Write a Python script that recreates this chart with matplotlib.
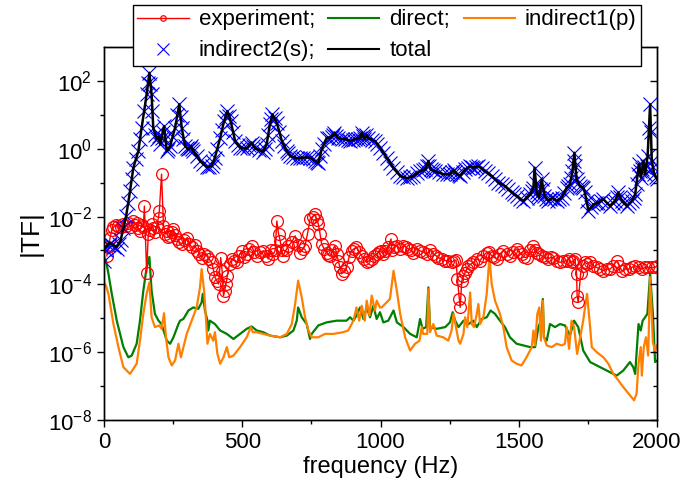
import numpy as np
import matplotlib
matplotlib.use("Agg")
import matplotlib.pyplot as plt
from matplotlib.lines import Line2D
from matplotlib.ticker import FixedLocator, LogFormatterSciNotation, NullFormatter, MultipleLocator

plt.rcParams['font.family'] = ['Liberation Sans', 'DejaVu Sans']

# ---------------- data (frequency in Hz, log10 |TF|) ----------------
experiment_pts = [
    (10, -3.16), (16, -2.9), (22, -2.62), (28, -2.4), (34, -2.32), (43, -2.25), (52, -2.27), (61, -2.3),
    (70, -2.22), (79, -2.28), (88, -2.18), (97, -2.3), (106, -2.13), (112, -2.25), (118, -2.18), (124, -2.35),
    (130, -2.42), (136, -2.25), (142, -2.32), (146, -1.69), (154, -3.65), (160, -2.52), (166, -2.4), (172, -2.22),
    (178, -2.35), (184, -2.47), (190, -2.3), (197, -2.03), (200, -1.83), (208, -0.75), (215, -2.27), (221, -2.5),
    (227, -2.42), (233, -2.6), (239, -2.57), (245, -2.45), (251, -2.37), (257, -2.55), (263, -2.66), (272, -2.75),
    (281, -2.81), (291, -2.7), (301, -2.62), (309, -2.8), (317, -2.91), (328, -2.85), (338, -3.01), (345, -3.1),
    (353, -3.21), (362, -3.1), (371, -3.16), (380, -3.25), (389, -3.35), (395, -3.55), (401, -3.79), (408, -3.9),
    (414, -3.99), (422, -3.21), (427, -3.6), (432, -4.33), (436, -4.2), (441, -4.0), (446, -3.74), (454, -3.4),
    (462, -3.25), (471, -3.3), (480, -3.35), (489, -3.15), (498, -3.01), (507, -3.2), (516, -3.11), (525, -2.95),
    (534, -2.86), (543, -3.05), (552, -3.16), (564, -3.05), (576, -3.01), (585, -3.15), (594, -3.25), (603, -3.0),
    (612, -3.11), (619, -3.0), (625, -2.13), (631, -2.5), (637, -2.71), (643, -3.0), (648, -3.16), (657, -3.0),
    (667, -2.86), (679, -2.75), (691, -2.57), (700, -2.85), (709, -3.06), (718, -2.95), (727, -2.86), (736, -2.5),
    (745, -2.08), (754, -2.0), (763, -1.93), (769, -2.1), (775, -2.22), (781, -2.5), (787, -2.81), (796, -2.95),
    (805, -3.06), (811, -3.12), (817, -3.16), (826, -3.0), (835, -2.86), (841, -3.1), (847, -3.3), (853, -3.5),
    (859, -3.69), (868, -3.6), (877, -3.5), (886, -3.2), (895, -3.01), (904, -2.95), (913, -2.91), (922, -3.05),
    (932, -3.16), (941, -3.25), (950, -3.35), (959, -3.3), (968, -3.25), (977, -3.15), (986, -3.11), (993, -3.05),
    (1000, -3.01), (1008, -3.1), (1016, -3.01), (1027, -2.9), (1038, -2.66), (1040, -2.99), (1050, -2.9), (1059, -2.86),
    (1071, -2.95), (1083, -2.86), (1092, -2.9), (1101, -2.96), (1110, -3.0), (1119, -3.06), (1131, -2.95), (1143, -3.01),
    (1155, -3.05), (1167, -3.11), (1179, -3.0), (1191, -3.11), (1200, -3.15), (1209, -3.21), (1222, -3.25), (1234, -3.3),
    (1245, -3.3), (1257, -3.35), (1265, -3.3), (1273, -3.28), (1278, -3.84), (1285, -4.43), (1288, -4.68), (1294, -3.89),
    (1300, -3.75), (1306, -3.65), (1312, -3.55), (1318, -3.45), (1327, -3.4), (1336, -3.35), (1348, -3.25), (1360, -3.3),
    (1372, -3.15), (1384, -3.06), (1393, -3.05), (1402, -3.16), (1411, -3.2), (1420, -3.25), (1432, -3.1), (1444, -3.01),
    (1456, -3.1), (1468, -3.16), (1480, -3.05), (1492, -2.96), (1501, -3.05), (1510, -3.11), (1519, -3.2), (1528, -3.21),
    (1541, -3.0), (1553, -2.86), (1559, -3.0), (1565, -3.06), (1574, -3.1), (1583, -3.16), (1595, -3.2), (1607, -3.25),
    (1616, -3.2), (1625, -3.21), (1637, -3.3), (1649, -3.35), (1661, -3.32), (1673, -3.3), (1682, -3.25), (1691, -3.35),
    (1697, -3.3), (1703, -3.25), (1709, -3.69), (1711, -4.33), (1715, -4.53), (1724, -3.65), (1731, -3.45), (1739, -3.35),
    (1748, -3.4), (1758, -3.35), (1770, -3.45), (1782, -3.5), (1794, -3.55), (1806, -3.6), (1818, -3.55), (1830, -3.55),
    (1842, -3.45), (1854, -3.3), (1863, -3.45), (1873, -3.6), (1885, -3.55), (1897, -3.55), (1909, -3.5), (1921, -3.45),
    (1933, -3.5), (1945, -3.55), (1957, -3.5), (1969, -3.5), (1981, -3.5), (1993, -3.5), (2000, -3.45)]

f_direct = [0, 7, 16, 28, 46, 70, 88, 100, 118, 130, 142, 154, 164, 172, 184, 197, 208, 227, 239, 251,
            269, 275, 287, 305, 323, 341, 353, 357, 365, 374, 377, 383, 401, 420, 444, 468, 492, 516, 534, 552,
            576, 600, 637, 661, 685, 697, 702, 715, 733, 745, 751, 775, 805, 842, 877, 890, 902, 913, 926, 938,
            950, 962, 974, 986, 998, 1010, 1028, 1047, 1059, 1083, 1107, 1131, 1143, 1152, 1165, 1173, 1179, 1203, 1234, 1251,
            1261, 1270, 1282, 1300, 1318, 1336, 1348, 1366, 1384, 1398, 1414, 1432, 1450, 1468, 1492, 1516, 1541, 1559, 1571, 1580,
            1587, 1591, 1601, 1613, 1631, 1649, 1667, 1685, 1700, 1715, 1733, 1758, 1782, 1806, 1830, 1854, 1878, 1902, 1914, 1921,
            1933, 1941, 1948, 1957, 1965, 1975, 1985, 1993, 2000]
lg_direct = [-3.2, -3.3, -3.69, -4.28, -5.07, -5.85, -6.15, -6.1, -5.75, -5.07, -4.19, -3.5, -3.19, -4.19, -4.87, -5.07, -5.17, -5.66, -5.75, -5.56,
             -5.17, -5.07, -5.02, -4.77, -4.68, -4.72, -4.53, -4.28, -4.77, -5.07, -5.36, -5.07, -5.17, -5.36, -5.46, -5.61, -5.46, -5.31, -5.24, -5.36,
             -5.41, -5.51, -5.56, -5.51, -5.36, -5.07, -4.68, -4.97, -5.17, -5.61, -5.46, -5.21, -5.12, -5.07, -5.07, -4.97, -5.07, -4.92, -4.68, -5.02,
             -4.68, -4.97, -4.63, -5.02, -4.82, -5.12, -5.07, -4.77, -5.12, -5.26, -5.46, -5.56, -5.02, -5.31, -5.26, -4.09, -5.26, -5.31, -5.26, -5.12,
             -4.82, -5.07, -5.26, -5.07, -5.17, -5.07, -5.26, -5.02, -4.97, -4.77, -4.87, -5.07, -5.26, -5.56, -5.75, -5.8, -5.85, -5.85, -5.26, -5.07,
             -4.43, -5.56, -5.66, -5.17, -5.26, -5.17, -5.21, -5.51, -5.07, -5.26, -5.95, -6.29, -6.39, -6.49, -6.59, -6.69, -6.54, -6.29, -6.44, -6.64,
             -5.17, -5.36, -5.07, -4.97, -4.87, -3.69, -4.87, -6.29, -6.25]

f_ind1 = [0, 7, 16, 34, 52, 70, 94, 106, 118, 130, 142, 154, 164, 172, 184, 200, 208, 217, 224, 233,
          245, 257, 269, 278, 287, 299, 317, 335, 347, 353, 362, 369, 374, 383, 395, 401, 410, 420, 432, 444,
          453, 468, 492, 516, 531, 538, 552, 576, 600, 637, 661, 679, 691, 702, 715, 727, 739, 751, 775, 799,
          829, 865, 883, 902, 913, 923, 932, 943, 950, 960, 968, 980, 986, 998, 1004, 1016, 1034, 1047, 1059, 1071,
          1089, 1107, 1125, 1141, 1149, 1154, 1169, 1173, 1179, 1191, 1203, 1227, 1245, 1257, 1264, 1273, 1282, 1288, 1300, 1306,
          1314, 1324, 1330, 1338, 1348, 1354, 1360, 1372, 1384, 1394, 1402, 1414, 1432, 1444, 1456, 1474, 1492, 1510, 1528, 1547,
          1553, 1559, 1567, 1574, 1580, 1587, 1591, 1601, 1619, 1637, 1655, 1667, 1673, 1682, 1691, 1700, 1711, 1724, 1733, 1743,
          1747, 1758, 1764, 1782, 1806, 1824, 1842, 1860, 1878, 1902, 1917, 1926, 1933, 1941, 1945, 1952, 1960, 1968, 1975, 1985,
          1993, 2000]
lg_ind1 = [-3.95, -4.04, -4.28, -5.17, -5.85, -6.44, -6.64, -6.49, -6.34, -5.66, -4.87, -4.28, -3.94, -4.97, -5.26, -5.21, -5.31, -4.85, -5.56, -6.15,
           -6.39, -6.24, -5.75, -6.15, -5.85, -5.46, -5.07, -4.68, -4.09, -3.55, -4.19, -5.07, -5.75, -5.46, -5.66, -5.41, -6.05, -6.34, -6.15, -5.85,
           -6.15, -6.1, -5.85, -5.56, -5.26, -5.41, -5.41, -5.46, -5.51, -5.56, -5.46, -5.17, -4.58, -3.89, -4.38, -4.97, -5.36, -5.56, -5.56, -5.46,
           -5.46, -5.41, -5.36, -5.07, -4.68, -5.07, -4.63, -5.07, -4.48, -4.92, -4.33, -4.77, -4.48, -4.68, -4.68, -4.58, -4.43, -3.6, -4.19, -4.87,
           -5.56, -5.95, -5.75, -5.66, -5.26, -5.46, -5.46, -4.14, -5.41, -5.17, -5.51, -5.56, -5.66, -5.36, -4.87, -5.26, -5.66, -5.75, -5.46, -4.97,
           -5.26, -4.24, -5.17, -5.26, -4.87, -4.58, -5.17, -4.97, -4.28, -3.2, -3.99, -4.48, -4.87, -5.26, -5.85, -6.24, -6.34, -6.39, -6.15, -5.85,
           -5.36, -5.8, -4.87, -4.68, -5.66, -4.48, -5.56, -5.8, -5.85, -5.75, -5.8, -5.75, -5.26, -5.9, -5.07, -5.26, -6.05, -5.46, -5.07, -4.48,
           -4.28, -5.26, -5.85, -6.0, -6.15, -6.34, -6.64, -6.83, -7.03, -7.27, -7.42, -7.22, -6.34, -5.85, -6.69, -5.85, -5.56, -6.1, -3.79, -5.71,
           -5.95, -5.8]

indirect2_pts = [
    (0, -3.3), (8, -3.0), (14, -2.85), (20, -2.8), (28, -2.85), (36, -2.9), (46, -2.95), (53, -2.8), (60, -2.7), (70, -2.35),
    (80, -1.98), (87, -1.6), (94, -1.25), (100, -0.9), (106, -0.56), (115, -0.3), (124, -0.07), (130, 0.3), (136, 0.62), (145, 1.1),
    (154, 1.6), (159, 1.95), (164, 2.24), (168, 1.9), (172, 1.6), (175, 1.1), (178, 0.62), (184, 0.4), (190, 0.28), (197, 0.37),
    (203, 0.13), (208, 0.32), (212, 0.5), (217, 0.67), (222, 0.3), (227, -0.07), (233, 0.0), (239, 0.08), (248, 0.35), (257, 0.62),
    (265, 1.0), (272, 1.31), (277, 0.95), (281, 0.62), (287, 0.3), (293, 0.08), (299, 0.02), (305, -0.02), (310, 0.03), (314, 0.08),
    (318, 0.0), (323, -0.07), (335, -0.22), (347, -0.36), (359, -0.46), (371, -0.54), (380, -0.53), (389, -0.51), (395, -0.4), (401, -0.26),
    (410, 0.0), (420, 0.32), (427, 0.55), (434, 0.81), (440, 0.95), (446, 1.11), (452, 0.96), (458, 0.81), (466, 0.5), (474, 0.23),
    (483, 0.12), (492, 0.03), (504, 0.02), (516, 0.01), (525, 0.1), (534, 0.18), (540, 0.08), (546, 0.01), (561, -0.04), (576, -0.09),
    (582, 0.0), (588, 0.13), (594, 0.4), (600, 0.72), (605, 0.87), (609, 1.01), (617, 0.9), (625, 0.76), (634, 0.5), (643, 0.23),
    (652, 0.08), (661, -0.07), (667, -0.14), (673, -0.21), (685, -0.25), (697, -0.28), (709, -0.27), (721, -0.26), (733, -0.25), (745, -0.26),
    (754, -0.31), (763, -0.36), (769, -0.39), (775, -0.41), (781, -0.2), (787, -0.02), (796, 0.15), (805, 0.32), (814, 0.33), (823, 0.34),
    (828, 0.4), (833, 0.47), (840, 0.38), (847, 0.31), (860, 0.3), (872, 0.28), (881, 0.25), (890, 0.23), (899, 0.25), (908, 0.28),
    (917, 0.3), (926, 0.32), (932, 0.47), (937, 0.37), (942, 0.28), (948, 0.4), (956, 0.31), (968, 0.27), (980, 0.23), (989, 0.13),
    (998, 0.03), (1010, -0.12), (1022, -0.26), (1034, -0.41), (1046, -0.56), (1058, -0.68), (1071, -0.8), (1083, -0.84), (1095, -0.87), (1107, -0.84),
    (1119, -0.8), (1131, -0.73), (1143, -0.66), (1152, -0.63), (1161, -0.61), (1167, -0.5), (1173, -0.36), (1177, -0.5), (1181, -0.61), (1189, -0.64),
    (1197, -0.66), (1212, -0.7), (1227, -0.75), (1239, -0.75), (1251, -0.75), (1258, -0.7), (1264, -0.64), (1270, -0.7), (1276, -0.75), (1282, -0.78),
    (1288, -0.8), (1297, -0.7), (1306, -0.61), (1315, -0.56), (1324, -0.51), (1330, -0.54), (1336, -0.56), (1345, -0.53), (1354, -0.51), (1366, -0.58),
    (1378, -0.66), (1390, -0.73), (1402, -0.8), (1414, -0.9), (1426, -1.0), (1438, -1.05), (1450, -1.1), (1462, -1.2), (1474, -1.29), (1483, -1.34),
    (1492, -1.39), (1504, -1.47), (1516, -1.54), (1528, -1.44), (1541, -1.34), (1547, -1.25), (1553, -1.15), (1557, -0.56), (1561, -1.0), (1565, -1.29),
    (1569, -1.37), (1573, -1.44), (1578, -1.2), (1583, -0.9), (1588, -1.2), (1593, -1.39), (1600, -1.47), (1607, -1.54), (1614, -1.49), (1621, -1.44),
    (1629, -1.49), (1637, -1.54), (1646, -1.49), (1655, -1.44), (1664, -1.3), (1673, -1.15), (1679, -1.1), (1685, -1.05), (1690, -0.85), (1694, -0.66),
    (1698, -0.35), (1701, -0.12), (1705, -0.5), (1709, -0.9), (1715, -1.0), (1721, -1.1), (1727, -1.12), (1733, -1.15), (1739, -1.29), (1746, -1.55),
    (1752, -1.83), (1761, -1.73), (1770, -1.64), (1779, -1.61), (1788, -1.59), (1797, -1.54), (1806, -1.49), (1818, -1.59), (1830, -1.69), (1839, -1.61),
    (1848, -1.54), (1854, -1.42), (1860, -1.29), (1866, -1.42), (1873, -1.54), (1882, -1.61), (1891, -1.69), (1900, -1.61), (1909, -1.54), (1915, -1.44),
    (1921, -1.34), (1926, -1.05), (1930, -0.75), (1935, -0.46), (1938, -0.65), (1942, -0.85), (1946, -0.6), (1951, -0.36), (1954, -0.55), (1957, -0.75),
    (1962, -0.5), (1966, -0.21), (1970, 0.6), (1975, 1.31), (1978, 0.5), (1981, -0.36), (1986, -0.55), (1990, -0.75), (1995, -0.82), (2000, -0.9)]

f_total = [0, 20, 46, 60, 80, 94, 106, 124, 136, 154, 164, 172, 178, 190, 197, 203, 208, 217, 227, 239,
           257, 272, 281, 293, 305, 314, 323, 347, 371, 389, 401, 420, 434, 446, 458, 474, 492, 516, 534, 546,
           576, 588, 600, 609, 625, 643, 661, 673, 697, 721, 745, 763, 775, 787, 805, 823, 833, 847, 872, 890,
           908, 926, 932, 942, 948, 956, 980, 998, 1022, 1046, 1071, 1095, 1119, 1143, 1161, 1173, 1181, 1197, 1227, 1251,
           1264, 1276, 1288, 1306, 1324, 1336, 1354, 1378, 1402, 1426, 1450, 1474, 1492, 1516, 1541, 1553, 1557, 1565, 1573, 1583,
           1593, 1607, 1621, 1637, 1655, 1673, 1685, 1694, 1701, 1709, 1721, 1733, 1739, 1752, 1770, 1788, 1806, 1830, 1848, 1860,
           1873, 1891, 1909, 1921, 1930, 1935, 1942, 1951, 1957, 1966, 1975, 1981, 1990, 2000]
lg_total = [-2.95, -2.77, -2.9, -2.7, -1.98, -1.25, -0.56, -0.07, 0.62, 1.6, 2.24, 1.6, 0.62, 0.28, 0.37, 0.13, 0.32, 0.67, -0.07, 0.08,
            0.62, 1.31, 0.62, 0.08, -0.02, 0.08, -0.07, -0.36, -0.54, -0.51, -0.26, 0.32, 0.81, 1.11, 0.81, 0.23, 0.03, 0.01, 0.18, 0.01,
            -0.09, 0.13, 0.72, 1.01, 0.76, 0.23, -0.07, -0.21, -0.28, -0.26, -0.26, -0.36, -0.41, -0.02, 0.32, 0.34, 0.47, 0.31, 0.28, 0.23,
            0.28, 0.32, 0.47, 0.28, 0.4, 0.31, 0.23, 0.03, -0.26, -0.56, -0.8, -0.87, -0.8, -0.66, -0.61, -0.36, -0.61, -0.66, -0.75, -0.75,
            -0.64, -0.75, -0.8, -0.61, -0.51, -0.56, -0.51, -0.66, -0.8, -1.0, -1.1, -1.29, -1.39, -1.54, -1.34, -1.15, -0.56, -1.29, -1.44, -0.9,
            -1.39, -1.54, -1.44, -1.54, -1.44, -1.15, -1.05, -0.66, -0.12, -0.9, -1.1, -1.15, -1.29, -1.83, -1.64, -1.59, -1.49, -1.69, -1.54, -1.29,
            -1.54, -1.69, -1.54, -1.34, -0.75, -0.46, -0.85, -0.36, -0.75, -0.21, 1.31, -0.36, -0.75, -0.9]

labels = ["experiment;", "indirect2(s);", "direct;", "total", "indirect1(p)"]
x_ticks = [0, 500, 1000, 1500, 2000]
y_major = [1e-8, 1e-6, 1e-4, 1e-2, 1e0, 1e2]
y_minor = [1e-7, 1e-5, 1e-3, 1e-1, 1e1]


def val(lg):
    return 10.0 ** np.asarray(lg, dtype=float)


f_exp, lg_exp = zip(*experiment_pts)
f_ind2, lg_ind2 = zip(*indirect2_pts)

# ---------------- figure ----------------
fig = plt.figure(figsize=(6.89, 4.93), dpi=100)
ax = fig.add_axes([0.151, 0.148, 0.8026, 0.7567])

RED, GREEN, ORANGE, BLUE = '#FF0000', '#007F00', '#FF8000', '#0000FF'

ax.plot(f_exp, val(lg_exp), color=RED, lw=1.0, marker='o', ms=8.5, mfc='none',
        mec=RED, mew=0.9, zorder=3)
ax.plot(f_direct, val(lg_direct), color=GREEN, lw=1.6, zorder=2)
ax.plot(f_ind1, val(lg_ind1), color=ORANGE, lw=1.6, zorder=2.5)
ax.plot(f_ind2, val(lg_ind2), ls='none', marker='x', ms=10, mec=BLUE, mew=0.8, zorder=4)
ax.plot(f_total, val(lg_total), color='black', lw=1.8, zorder=5)

ax.set_yscale('log')
ax.set_xlim(0, 2000)
ax.set_ylim(1e-8, 1e3)

ax.xaxis.set_major_locator(FixedLocator(x_ticks))
ax.xaxis.set_minor_locator(MultipleLocator(250))
ax.yaxis.set_major_locator(FixedLocator(y_major))
ax.yaxis.set_minor_locator(FixedLocator(y_minor))
ax.yaxis.set_major_formatter(LogFormatterSciNotation())
ax.yaxis.set_minor_formatter(NullFormatter())

ax.tick_params(axis='both', which='major', direction='out', length=5, width=1.0,
               labelsize=16, top=False, right=False)
ax.tick_params(axis='both', which='minor', direction='out', length=3, width=1.0,
               top=False, right=False)
for s in ax.spines.values():
    s.set_linewidth(1.0)

# right-side inward ticks
ax2 = ax.twinx()
ax2.set_yscale('log')
ax2.set_ylim(1e-8, 1e3)
ax2.yaxis.set_major_locator(FixedLocator(y_major))
ax2.yaxis.set_minor_locator(FixedLocator(y_minor))
ax2.yaxis.set_minor_formatter(NullFormatter())
ax2.tick_params(axis='y', which='both', direction='in', labelright=False, width=1.0)
ax2.tick_params(axis='y', which='major', length=5)
ax2.tick_params(axis='y', which='minor', length=3)
for s in ax2.spines.values():
    s.set_linewidth(1.0)

ax.set_xlabel('frequency (Hz)', fontsize=17, labelpad=2)
ax.set_ylabel('|TF|', fontsize=19, labelpad=4)

handles = [
    Line2D([], [], color=RED, lw=1.0, marker='o', ms=4, mfc='none', mec=RED, mew=0.9),
    Line2D([], [], ls='none', marker='x', ms=8, mec=BLUE, mew=0.8),
    Line2D([], [], color=GREEN, lw=1.5),
    Line2D([], [], color='black', lw=1.5),
    Line2D([], [], color=ORANGE, lw=1.5),
]
leg = fig.legend(handles, labels, ncol=3, loc='upper left', bbox_to_anchor=(0.193, 0.99),
                 frameon=True, fancybox=False, edgecolor='black', framealpha=1,
                 fontsize=16, borderpad=0.2, handlelength=2.3, handletextpad=0.45,
                 columnspacing=0.6, labelspacing=0.45, borderaxespad=0)
leg.get_frame().set_linewidth(1.0)
leg.set_zorder(10)

fig.savefig('out.png', dpi=100)
